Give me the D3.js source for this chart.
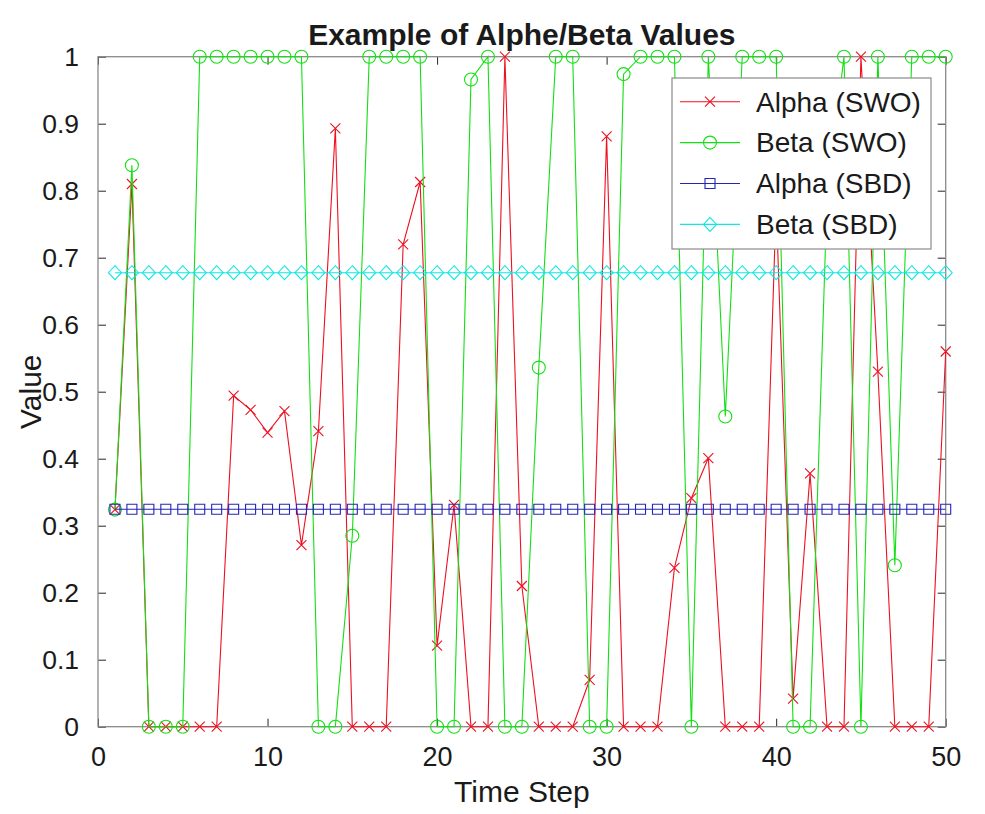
<!DOCTYPE html>
<html>
<head>
<meta charset="utf-8">
<script src="https://cdn.jsdelivr.net/npm/d3@7"></script>
<style>
    body { margin: 0; background: #fff; }
    text { font-family: "Liberation Sans", Arial, Helvetica, sans-serif; fill: #1a1a1a; }
</style>
</head>
<body>
<div id="chart"></div>
<script>
// data
var timeSteps = [1,2,3,4,5,6,7,8,9,10,11,12,13,14,15,16,17,18,19,20,21,22,23,24,25,
    26,27,28,29,30,31,32,33,34,35,36,37,38,39,40,41,42,43,44,45,46,47,48,49,50];

var alphaSWO = [0.324,0.81,0,0,0,0,0,0.494,0.473,0.439,0.471,0.271,0.441,0.893,0,0,0,0.72,0.813,0.121,
    0.331,0,0,1.0,0.21,0,0,0,0.07,0.881,0,0,0,0.237,0.341,0.401,0,0,0,0.78,
    0.042,0.378,0,0,1.0,0.53,0,0,0,0.56];

var betaSWO = [0.324,0.838,0,0,0,1,1,1,1,1,1,1,0,0,0.285,1,1,1,1,0,
    0,0.966,1,0,0,0.536,1,1,0,0,0.974,1,1,1,0,1,0.463,1,1,1,
    0,0,0.79,1,0,1,0.241,1,1,1];

var alphaSBD = [0.3245,0.3245,0.3245,0.3245,0.3245,0.3245,0.3245,0.3245,0.3245,0.3245,
    0.3245,0.3245,0.3245,0.3245,0.3245,0.3245,0.3245,0.3245,0.3245,0.3245,
    0.3245,0.3245,0.3245,0.3245,0.3245,0.3245,0.3245,0.3245,0.3245,0.3245,
    0.3245,0.3245,0.3245,0.3245,0.3245,0.3245,0.3245,0.3245,0.3245,0.3245,
    0.3245,0.3245,0.3245,0.3245,0.3245,0.3245,0.3245,0.3245,0.3245,0.3245];

var betaSBD = [0.6776,0.6776,0.6776,0.6776,0.6776,0.6776,0.6776,0.6776,0.6776,0.6776,
    0.6776,0.6776,0.6776,0.6776,0.6776,0.6776,0.6776,0.6776,0.6776,0.6776,
    0.6776,0.6776,0.6776,0.6776,0.6776,0.6776,0.6776,0.6776,0.6776,0.6776,
    0.6776,0.6776,0.6776,0.6776,0.6776,0.6776,0.6776,0.6776,0.6776,0.6776,
    0.6776,0.6776,0.6776,0.6776,0.6776,0.6776,0.6776,0.6776,0.6776,0.6776];

var seriesNames = ["Alpha (SWO)", "Beta (SWO)", "Alpha (SBD)", "Beta (SBD)"];
var xTicks = [0, 10, 20, 30, 40, 50];
var yTicks = [0, 0.1, 0.2, 0.3, 0.4, 0.5, 0.6, 0.7, 0.8, 0.9, 1];

var titleText = "Example of Alphe/Beta Values";
var xLabel = "Time Step";
var yLabel = "Value";

var width = 985, height = 814;
var margin = {top: 56.7, right: 985 - 945.7, bottom: 814 - 726.7, left: 98};

var svg = d3.select("#chart").append("svg")
    .attr("width", width)
    .attr("height", height);

svg.append("rect").attr("width", width).attr("height", height).attr("fill", "#fff");

var x = d3.scaleLinear().domain([0, 50]).range([margin.left, width - margin.right]);
var y = d3.scaleLinear().domain([0, 1]).range([height - margin.bottom, margin.top]);

var tickLen = 8;
var axisColor = "#262626";

// axes, MATLAB style: box on, ticks pointing in on all four sides
svg.append("g")
    .attr("transform", "translate(0," + y(0) + ")")
    .call(d3.axisBottom(x).tickValues(xTicks).tickSize(-tickLen).tickPadding(tickLen + 12).tickFormat(d3.format("d")))
    .call(function (g) {
        g.select(".domain").remove();
        g.selectAll(".tick line").attr("stroke", axisColor);
        g.selectAll("text").attr("font-size", 27).attr("fill", "#1a1a1a").attr("font-family", null);
    });

svg.append("g")
    .attr("transform", "translate(0," + y(1) + ")")
    .call(d3.axisTop(x).tickValues(xTicks).tickSize(-tickLen).tickFormat(""))
    .call(function (g) {
        g.select(".domain").remove();
        g.selectAll(".tick line").attr("stroke", axisColor);
    });

svg.append("g")
    .attr("transform", "translate(" + x(0) + ",0)")
    .call(d3.axisLeft(y).tickValues(yTicks).tickSize(-tickLen).tickPadding(tickLen + 11).tickFormat(d3.format("")))
    .call(function (g) {
        g.select(".domain").remove();
        g.selectAll(".tick line").attr("stroke", axisColor);
        g.selectAll("text").attr("font-size", 26.5).attr("fill", "#1a1a1a").attr("font-family", null);
    });

svg.append("g")
    .attr("transform", "translate(" + x(50) + ",0)")
    .call(d3.axisRight(y).tickValues(yTicks).tickSize(-tickLen).tickFormat(""))
    .call(function (g) {
        g.select(".domain").remove();
        g.selectAll(".tick line").attr("stroke", axisColor);
    });

// box
svg.append("rect")
    .attr("x", x(0))
    .attr("y", y(1))
    .attr("width", x(50) - x(0))
    .attr("height", y(0) - y(1))
    .attr("fill", "none")
    .attr("stroke", "#8a8a8a")
    .attr("stroke-width", 1.3);

// marker shapes
function markerPath(type) {
    if (type == "x") {
        return "M-5,-5L5,5M-5,5L5,-5";
    } else if (type == "square") {
        return "M-5,-5H5V5H-5Z";
    } else if (type == "diamond") {
        return "M0,-7L6.5,0L0,7L-6.5,0Z";
    }
    return null;
}

var series = [
    {name: seriesNames[0], values: alphaSWO, color: "#ee1020", marker: "x"},
    {name: seriesNames[1], values: betaSWO, color: "#12e012", marker: "circle"},
    {name: seriesNames[2], values: alphaSBD, color: "#2525b8", marker: "square"},
    {name: seriesNames[3], values: betaSBD, color: "#12e6e6", marker: "diamond"}
];

function drawMarker(sel, s) {
    if (s.marker == "circle") {
        sel.append("circle")
            .attr("r", 6.5)
            .attr("fill", "none")
            .attr("stroke", s.color)
            .attr("stroke-width", 1.1);
    } else {
        sel.append("path")
            .attr("d", markerPath(s.marker))
            .attr("fill", "none")
            .attr("stroke", s.color)
            .attr("stroke-width", 1.1);
    }
}

var line = d3.line()
    .x(function (d) { return x(d[0]); })
    .y(function (d) { return y(d[1]); });

series.forEach(function (s) {
    var pts = timeSteps.map(function (t, i) { return [t, s.values[i]]; });
    var g = svg.append("g").attr("class", "series");
    g.append("path")
        .attr("d", line(pts))
        .attr("fill", "none")
        .attr("stroke", s.color)
        .attr("stroke-width", 1.1);
    g.selectAll(".pt")
        .data(pts)
        .enter()
        .append("g")
        .attr("class", "pt")
        .attr("transform", function (d) { return "translate(" + x(d[0]) + "," + y(d[1]) + ")"; })
        .each(function () { drawMarker(d3.select(this), s); });
});

// legend
var legend = svg.append("g").attr("transform", "translate(672,78)");
legend.append("rect")
    .attr("width", 259)
    .attr("height", 171)
    .attr("fill", "#fff")
    .attr("stroke", "#8a8a8a")
    .attr("stroke-width", 1.2);

var entry = legend.selectAll(".entry")
    .data(series)
    .enter()
    .append("g")
    .attr("class", "entry")
    .attr("transform", function (d, i) { return "translate(0," + (23.7 + i * 40.9) + ")"; });

entry.append("line")
    .attr("x1", 8).attr("x2", 68)
    .attr("stroke", function (d) { return d.color; })
    .attr("stroke-width", 1.1);

entry.each(function (d) {
    var m = d3.select(this).append("g").attr("transform", "translate(38,0)");
    drawMarker(m, d);
});

entry.append("text")
    .attr("x", 84)
    .attr("dy", "0.35em")
    .attr("font-size", 28)
    .text(function (d) { return d.name; });

// title and axis labels
svg.append("text")
    .attr("x", (x(0) + x(50)) / 2)
    .attr("y", 45)
    .attr("text-anchor", "middle")
    .attr("font-size", 30)
    .attr("font-weight", "bold")
    .attr("fill", "#000")
    .text(titleText);

svg.append("text")
    .attr("x", (x(0) + x(50)) / 2)
    .attr("y", 802)
    .attr("text-anchor", "middle")
    .attr("font-size", 30)
    .text(xLabel);

svg.append("text")
    .attr("transform", "translate(41," + (y(0) + y(1)) / 2 + ") rotate(-90)")
    .attr("text-anchor", "middle")
    .attr("font-size", 30)
    .text(yLabel);
</script>
</body>
</html>
